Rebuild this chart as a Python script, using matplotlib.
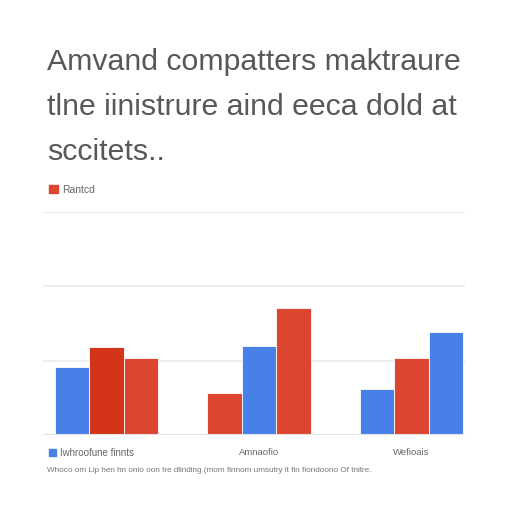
import numpy as np
import matplotlib.pyplot as plt
from matplotlib.patches import Patch

# data
title_lines = ["Amvand compatters maktraure", "tlne iinistrure aind eeca dold at", "sccitets.."]
groups = ["", "Amnaofio", "Wefioais"]
bar_values = [
    [0.92, 1.18, 1.04],
    [0.57, 1.20, 1.71],
    [0.62, 1.04, 1.39],
]
blue = "#4780e6"
red = "#dc4631"
darkred = "#d43519"
bar_colors = [
    [blue, darkred, red],
    [red, blue, red],
    [blue, red, blue],
]
top_legend = "Rantcd"
bottom_legend = "Iwhroofune finnts"
footnote = "Whoco om Lip hen hn onio oon tre dlinding (mom finnom umsutry it fin fiondoono Of tnitre."

plt.rcParams['font.family'] = ['Liberation Sans', 'DejaVu Sans']

fig = plt.figure(figsize=(5.12, 5.12), dpi=100)
ax = fig.add_axes([43/512, 1-435/512, 422/512, 223/512])

w = 0.226
x = np.arange(len(groups))
for i in range(len(groups)):
    for j in range(3):
        ax.bar(x[i] + (j - 1) * w, bar_values[i][j], width=w,
               color=bar_colors[i][j], edgecolor="white", linewidth=0.6, zorder=3)

for v in [1, 2, 3]:
    ax.axhline(v, color="#ededed", linewidth=1.3, zorder=1)
ax.axhline(0, color="#e3e3e3", linewidth=1.5, zorder=4)

ax.set_xlim(-0.416, 2.35)
ax.set_ylim(0, 3)
ax.set_yticks([])
ax.set_xticks(x[1:])
ax.set_xticklabels(groups[1:], color="#666666", fontsize=6.8)
ax.tick_params(axis="x", length=0, pad=9.5)
for s in ax.spines.values():
    s.set_visible(False)

# title, one line at a time
for k, line in enumerate(title_lines):
    fig.text(47/512, 1 - (70 + 45*k)/512, line, fontsize=21.8, color="#585858",
             va="baseline", ha="left")

fig.legend(handles=[Patch(color=red)], labels=[top_legend], loc="center left",
           bbox_to_anchor=(40/512, 1-190/512), frameon=False, fontsize=7.5,
           handlelength=0.8, handleheight=0.8, handletextpad=0.4, labelcolor="#666666")
fig.legend(handles=[Patch(color=blue)], labels=[bottom_legend], loc="center left",
           bbox_to_anchor=(40/512, 1-453/512), frameon=False, fontsize=7.0,
           handlelength=0.7, handleheight=0.7, handletextpad=0.5, labelcolor="#666666")

fig.text(47/512, 1-471/512, footnote, fontsize=5.9, color="#777777", va="center", ha="left")

fig.savefig("out.png", dpi=100, facecolor="white")
